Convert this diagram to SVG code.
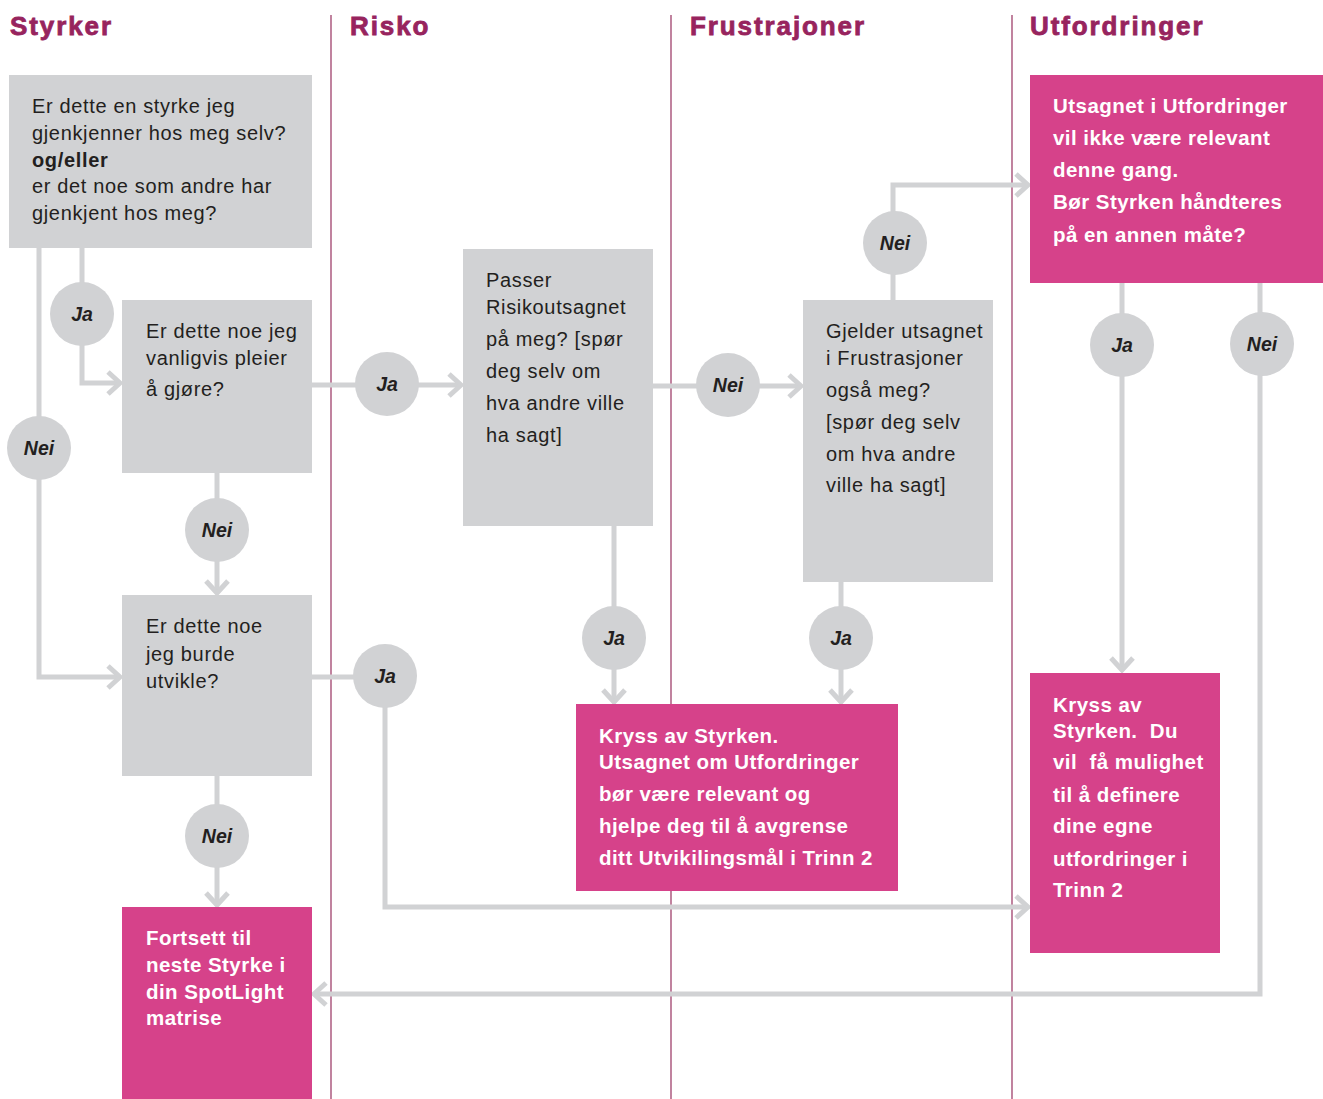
<svg xmlns="http://www.w3.org/2000/svg" width="1323" height="1099" viewBox="0 0 1323 1099">
<style>
.hdr{font-family:"Liberation Sans",Arial,sans-serif;font-weight:bold;font-size:26px;fill:#97245e;stroke:#97245e;stroke-width:0.8;letter-spacing:1.9px}
.div{stroke:#97305f;stroke-width:1.2}
.gbox{fill:#d1d2d4}
.pbox{fill:#d6428a}
.gt{font-family:"Liberation Sans",Arial,sans-serif;font-size:20px;fill:#231f20;letter-spacing:0.65px}
.pt{font-family:"Liberation Sans",Arial,sans-serif;font-weight:bold;font-size:20.5px;fill:#ffffff;letter-spacing:0.45px}
.con{fill:none;stroke:#d1d2d4;stroke-width:5}
.arr{fill:none;stroke:#d1d2d4;stroke-width:5}
.lbl{fill:#d1d2d4}
.lt{font-family:"Liberation Sans",Arial,sans-serif;font-weight:bold;font-style:italic;font-size:19.5px;fill:#231f20;text-anchor:middle}
</style>
<rect width="1323" height="1099" fill="#ffffff"/>
<g id="lanes">
<line class="div" x1="331" y1="15" x2="331" y2="1099"/>
<line class="div" x1="671" y1="15" x2="671" y2="1099"/>
<line class="div" x1="1012" y1="15" x2="1012" y2="1099"/>
<text class="hdr" x="10" y="35">Styrker</text>
<text class="hdr" x="350" y="35">Risko</text>
<text class="hdr" x="690" y="35">Frustrajoner</text>
<text class="hdr" x="1030" y="35">Utfordringer</text>
</g>
<g id="connectors">
<path class="con" d="M82,248 V383 H118"/><path class="arr" d="M108,372 L120,383 L108,394"/>
<path class="con" d="M39,248 V677 H118"/><path class="arr" d="M108,666 L120,677 L108,688"/>
<path class="con" d="M312,385 H459"/><path class="arr" d="M449,374 L461,385 L449,396"/>
<path class="con" d="M217,473 V590"/><path class="arr" d="M206,581 L217,593 L228,581"/>
<path class="con" d="M653,386 H799"/><path class="arr" d="M789,375 L801,386 L789,397"/>
<path class="con" d="M312,677 H385 V907 H1026"/><path class="arr" d="M1016,896 L1028,907 L1016,918"/>
<path class="con" d="M217,776 V902"/><path class="arr" d="M206,893 L217,905 L228,893"/>
<path class="con" d="M614,526 V699"/><path class="arr" d="M603,690 L614,702 L625,690"/>
<path class="con" d="M841,582 V699"/><path class="arr" d="M830,690 L841,702 L852,690"/>
<path class="con" d="M893,300 V185 H1026"/><path class="arr" d="M1016,174 L1028,185 L1016,196"/>
<path class="con" d="M1122,282 V667"/><path class="arr" d="M1111,658 L1122,670 L1133,658"/>
<path class="con" d="M1260,282 V994 H317"/><path class="arr" d="M326,983 L314,994 L326,1005"/>
<g id="labels">
<circle class="lbl" cx="82" cy="314" r="32"/><text class="lt" x="82" y="321">Ja</text>
<circle class="lbl" cx="39" cy="448" r="32"/><text class="lt" x="39" y="455">Nei</text>
<circle class="lbl" cx="387" cy="384" r="32"/><text class="lt" x="387" y="391">Ja</text>
<circle class="lbl" cx="217" cy="530" r="32"/><text class="lt" x="217" y="537">Nei</text>
<circle class="lbl" cx="728" cy="385" r="32"/><text class="lt" x="728" y="392">Nei</text>
<circle class="lbl" cx="385" cy="676" r="32"/><text class="lt" x="385" y="683">Ja</text>
<circle class="lbl" cx="217" cy="836" r="32"/><text class="lt" x="217" y="843">Nei</text>
<circle class="lbl" cx="614" cy="638" r="32"/><text class="lt" x="614" y="645">Ja</text>
<circle class="lbl" cx="841" cy="638" r="32"/><text class="lt" x="841" y="645">Ja</text>
<circle class="lbl" cx="895" cy="243" r="32"/><text class="lt" x="895" y="250">Nei</text>
<circle class="lbl" cx="1122" cy="345" r="32"/><text class="lt" x="1122" y="352">Ja</text>
<circle class="lbl" cx="1262" cy="344" r="32"/><text class="lt" x="1262" y="351">Nei</text>
</g>
</g>
<g id="node-styrke">
<rect class="gbox" x="9" y="75" width="303" height="173"/>
<text class="gt" x="32" y="113">Er dette en styrke jeg</text>
<text class="gt" x="32" y="140">gjenkjenner hos meg selv?</text>
<text class="gt" x="32" y="167" font-weight="bold">og/eller</text>
<text class="gt" x="32" y="193">er det noe som andre har</text>
<text class="gt" x="32" y="220">gjenkjent hos meg?</text>
</g>
<g id="node-pleier">
<rect class="gbox" x="122" y="300" width="190" height="173"/>
<text class="gt" x="146" y="338">Er dette noe jeg</text>
<text class="gt" x="146" y="365">vanligvis pleier</text>
<text class="gt" x="146" y="396">å gjøre?</text>
</g>
<g id="node-utvikle">
<rect class="gbox" x="122" y="595" width="190" height="181"/>
<text class="gt" x="146" y="633">Er dette noe</text>
<text class="gt" x="146" y="661">jeg burde</text>
<text class="gt" x="146" y="688">utvikle?</text>
</g>
<g id="node-fortsett">
<rect class="pbox" x="122" y="907" width="190" height="192"/>
<text class="pt" x="146" y="945">Fortsett til</text>
<text class="pt" x="146" y="972">neste Styrke i</text>
<text class="pt" x="146" y="999">din SpotLight</text>
<text class="pt" x="146" y="1025">matrise</text>
</g>
<g id="node-risiko">
<rect class="gbox" x="463" y="249" width="190" height="277"/>
<text class="gt" x="486" y="287">Passer</text>
<text class="gt" x="486" y="314">Risikoutsagnet</text>
<text class="gt" x="486" y="346">på meg? [spør</text>
<text class="gt" x="486" y="378">deg selv om</text>
<text class="gt" x="486" y="410">hva andre ville</text>
<text class="gt" x="486" y="442">ha sagt]</text>
</g>
<g id="node-frustrasjon">
<rect class="gbox" x="803" y="300" width="190" height="282"/>
<text class="gt" x="826" y="338">Gjelder utsagnet</text>
<text class="gt" x="826" y="365">i Frustrasjoner</text>
<text class="gt" x="826" y="397">også meg?</text>
<text class="gt" x="826" y="429">[spør deg selv</text>
<text class="gt" x="826" y="461">om hva andre</text>
<text class="gt" x="826" y="492">ville ha sagt]</text>
</g>
<g id="node-kryss1">
<rect class="pbox" x="576" y="704" width="322" height="187"/>
<text class="pt" x="599" y="743">Kryss av Styrken.</text>
<text class="pt" x="599" y="769">Utsagnet om Utfordringer</text>
<text class="pt" x="599" y="801">bør være relevant og</text>
<text class="pt" x="599" y="833">hjelpe deg til å avgrense</text>
<text class="pt" x="599" y="865">ditt Utvikilingsmål i Trinn 2</text>
</g>
<g id="node-utfordring">
<rect class="pbox" x="1030" y="75" width="293" height="208"/>
<text class="pt" x="1053" y="113">Utsagnet i Utfordringer</text>
<text class="pt" x="1053" y="145">vil ikke være relevant</text>
<text class="pt" x="1053" y="177">denne gang.</text>
<text class="pt" x="1053" y="209">Bør Styrken håndteres</text>
<text class="pt" x="1053" y="242">på en annen måte?</text>
</g>
<g id="node-kryss2">
<rect class="pbox" x="1030" y="673" width="190" height="280"/>
<text class="pt" x="1053" y="712" xml:space="preserve">Kryss av</text>
<text class="pt" x="1053" y="738" xml:space="preserve">Styrken.  Du</text>
<text class="pt" x="1053" y="769" xml:space="preserve">vil  få mulighet</text>
<text class="pt" x="1053" y="802">til å definere</text>
<text class="pt" x="1053" y="833">dine egne</text>
<text class="pt" x="1053" y="866">utfordringer i</text>
<text class="pt" x="1053" y="897">Trinn 2</text>
</g>
</svg>
